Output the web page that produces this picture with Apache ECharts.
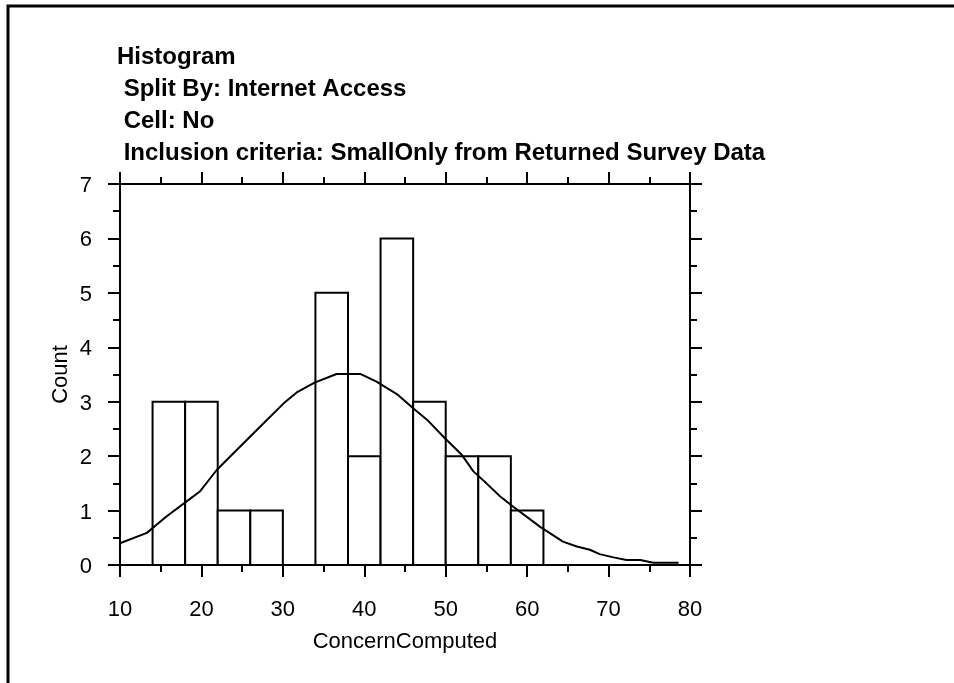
<!DOCTYPE html>
<html>
<head>
<meta charset="utf-8">
<script src="https://cdn.jsdelivr.net/npm/echarts@6/dist/echarts.min.js"></script>
<style>
  html, body { margin: 0; padding: 0; background: #fff; }
  #chart { width: 954px; height: 683px; }
</style>
</head>
<body>
<div id="chart"></div>
<script>
// Histogram bins: left edge of each bin and its count (bin width 4)
const binStarts = [14, 18, 22, 26, 30, 34, 38, 42, 46, 50, 54, 58];
const binCounts = [3, 3, 1, 1, 0, 5, 2, 6, 3, 2, 2, 1];
const binWidth = 4;

// Fitted density curve, scaled to counts
const curveX = [10, 13.3, 15.7, 18.1, 19.8, 21.9, 23.9, 26.8, 30.1, 31.7, 33.9, 36.6, 39.5, 41.5, 44.0, 46.0, 47.7, 49.9, 52.0, 53.4, 55.0, 56.7, 58.3, 61.6, 64.4, 66.1, 67.7, 68.9, 70.6, 72.2, 73.9, 75.5, 78.6];
const curveY = [0.40, 0.59, 0.89, 1.16, 1.35, 1.75, 2.05, 2.48, 2.97, 3.17, 3.35, 3.51, 3.51, 3.37, 3.14, 2.88, 2.67, 2.33, 2.02, 1.72, 1.50, 1.26, 1.07, 0.70, 0.43, 0.34, 0.28, 0.20, 0.14, 0.09, 0.09, 0.04, 0.04];

// Axis ranges
const xMin = 10, xMax = 80, xStep = 10;
const yMin = 0, yMax = 7, yStep = 1;

const titleLines = [
  'Histogram',
  ' Split By: Internet Access',
  ' Cell: No',
  ' Inclusion criteria: SmallOnly from Returned Survey Data'
];

const FONT = "'Liberation Sans', Arial, sans-serif";
const axisLineStyle = { color: '#000', width: 2 };

const bins = binStarts.map((s, i) => [s, s + binWidth, binCounts[i]]);
const curve = curveX.map((x, i) => [x, curveY[i]]);

function xAxisCfg(pos, showLabels) {
  return {
    type: 'value', position: pos, min: xMin, max: xMax, interval: xStep,
    gridIndex: 0,
    axisLine: { show: true, onZero: false, lineStyle: axisLineStyle },
    axisTick: { show: true, length: 12, lineStyle: axisLineStyle },
    minorTick: { show: true, splitNumber: 2, length: 7, lineStyle: axisLineStyle },
    splitLine: { show: false },
    axisLabel: { show: showLabels, color: '#000', fontFamily: FONT, fontSize: 22, margin: 34 },
    name: showLabels ? 'ConcernComputed' : '',
    nameLocation: 'middle', nameGap: 66,
    nameTextStyle: { color: '#000', fontFamily: FONT, fontSize: 22 }
  };
}
function yAxisCfg(pos, showLabels) {
  return {
    type: 'value', position: pos, min: yMin, max: yMax, interval: yStep,
    gridIndex: 0,
    axisLine: { show: true, onZero: false, lineStyle: axisLineStyle },
    axisTick: { show: true, length: 12, lineStyle: axisLineStyle },
    minorTick: { show: true, splitNumber: 2, length: 7, lineStyle: axisLineStyle },
    splitLine: { show: false },
    axisLabel: { show: showLabels, color: '#000', fontFamily: FONT, fontSize: 22, margin: 28, verticalAlign: 'top', padding: [-9, 0, 0, 0] },
    name: showLabels ? 'Count' : '',
    nameLocation: 'middle', nameGap: 48, nameRotate: 90, nameMoveOverlap: false,
    nameTextStyle: { color: '#000', fontFamily: FONT, fontSize: 22 }
  };
}

const chart = echarts.init(document.getElementById('chart'), null, { renderer: 'canvas' });
chart.setOption({
  backgroundColor: '#fff',
  animation: false,
  title: {
    text: titleLines.join('\n'),
    left: 112, top: 36,
    textStyle: { color: '#000', fontFamily: FONT, fontSize: 24, fontWeight: 'bold', lineHeight: 32 }
  },
  grid: { left: 120, right: 264, top: 184, bottom: 118, containLabel: false },
  xAxis: [xAxisCfg('bottom', true), xAxisCfg('top', false)],
  yAxis: [yAxisCfg('left', true), yAxisCfg('right', false)],
  graphic: [
    { type: 'polyline', shape: { points: [[8, 683], [8, 6], [954, 6]] },
      style: { stroke: '#000', lineWidth: 3, fill: null } }
  ],
  series: [
    {
      type: 'custom',
      xAxisIndex: 0, yAxisIndex: 0,
      data: bins,
      renderItem: function (params, api) {
        const h = api.value(2);
        if (!h) return null;
        const p0 = api.coord([api.value(0), 0]);
        const p1 = api.coord([api.value(1), h]);
        return {
          type: 'rect',
          shape: { x: p0[0], y: p1[1], width: p1[0] - p0[0], height: p0[1] - p1[1] },
          style: { fill: '#fff', stroke: '#000', lineWidth: 2 }
        };
      },
      z: 2
    },
    {
      type: 'line',
      xAxisIndex: 0, yAxisIndex: 0,
      data: curve,
      showSymbol: false, smooth: false,
      lineStyle: { color: '#000', width: 2 },
      z: 3
    }
  ]
});
</script>
</body>
</html>
